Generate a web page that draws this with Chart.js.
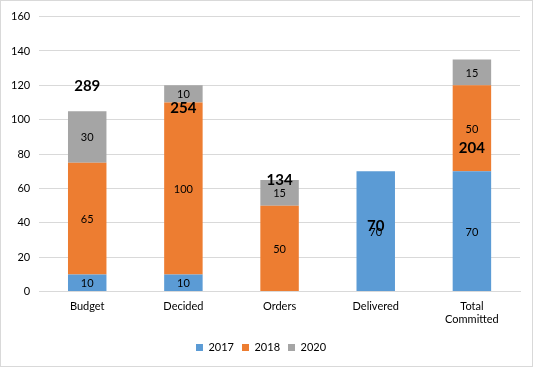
<!DOCTYPE html>
<html><head><meta charset="utf-8">
<script src="https://cdn.jsdelivr.net/npm/chart.js@4"></script>
<style>
html,body{margin:0;padding:0;background:#fff;}
#wrap{position:absolute;left:0;top:0;width:531px;height:365px;border:1px solid #d9d9d9;box-sizing:content-box;}
canvas{display:block;}
</style></head>
<body><div id="wrap"><canvas id="c" width="531" height="365"></canvas></div>
<script>
const categories = [['Budget'], ['Decided'], ['Orders'], ['Delivered'], ['Total', 'Committed']];
const series2017 = [10, 10, null, 70, 70];
const series2018 = [65, 100, 50, null, 50];
const series2020 = [30, 10, 15, null, 15];
const totalLabels = ['289', '254', '134', '70', '204'];
const totalLabelLevels = [119.5, 106.5, 65, 38, 83.5];
const yTicks = [0, 20, 40, 60, 80, 100, 120, 140, 160];

const FONT = 'Lato, "Open Sans", sans-serif';

const labelPlugin = {
  id: 'labels',
  afterDatasetsDraw(chart) {
    const ctx = chart.ctx;
    ctx.save();
    ctx.textAlign = 'center';
    ctx.textBaseline = 'middle';
    chart.data.datasets.forEach((ds, i) => {
      const meta = chart.getDatasetMeta(i);
      if (ds.type === 'bar' || !ds.type) {
        ctx.font = '11px ' + FONT;
        ctx.fillStyle = '#000';
        meta.data.forEach((el, j) => {
          const v = ds.data[j];
          if (v == null) return;
          const y = (el.y + el.base) / 2;
          ctx.fillText(String(v), el.x, y + 1);
        });
      } else if (ds.isTotals) {
        ctx.font = 'bold 15px ' + FONT;
        ctx.fillStyle = '#000';
        meta.data.forEach((el, j) => {
          ctx.fillText(totalLabels[j], el.x, el.y);
        });
      }
    });
    ctx.restore();
  }
};

new Chart(document.getElementById('c'), {
  data: {
    labels: categories,
    datasets: [
      { type: 'bar', label: '2017', data: series2017, backgroundColor: '#5b9bd5', stack: 'a' },
      { type: 'bar', label: '2018', data: series2018, backgroundColor: '#ed7d31', stack: 'a' },
      { type: 'bar', label: '2020', data: series2020, backgroundColor: '#a5a5a5', stack: 'a' },
      { type: 'line', label: 'totals', isTotals: true, data: totalLabelLevels, stack: 'totals',
        showLine: false, pointRadius: 0, pointHoverRadius: 0, borderColor: 'transparent', backgroundColor: 'transparent' }
    ]
  },
  options: {
    responsive: false,
    animation: false,
    events: [],
    layout: { padding: { left: 1, right: 12, top: 7, bottom: 3 } },
    datasets: { bar: { categoryPercentage: 1, barPercentage: 0.4 } },
    scales: {
      x: {
        stacked: true,
        grid: { display: false, drawTicks: false },
        border: { color: '#d9d9d9' },
        ticks: { color: '#000', font: { family: FONT, size: 11 }, padding: 8, maxRotation: 0, autoSkip: false }
      },
      y: {
        stacked: true,
        min: 0, max: 160,
        afterBuildTicks(axis) { axis.ticks = yTicks.map(v => ({ value: v })); },
        grid: { color: '#d9d9d9', drawTicks: false },
        border: { display: false },
        ticks: { color: '#000', font: { family: FONT, size: 11 }, padding: 9 }
      }
    },
    plugins: {
      legend: {
        position: 'bottom',
        labels: {
          color: '#000', font: { family: FONT, size: 11 }, boxWidth: 7, boxHeight: 7, padding: 8,
          filter: (item) => item.text !== 'totals'
        }
      },
      tooltip: { enabled: false }
    }
  },
  plugins: [labelPlugin]
});
</script></body></html>
